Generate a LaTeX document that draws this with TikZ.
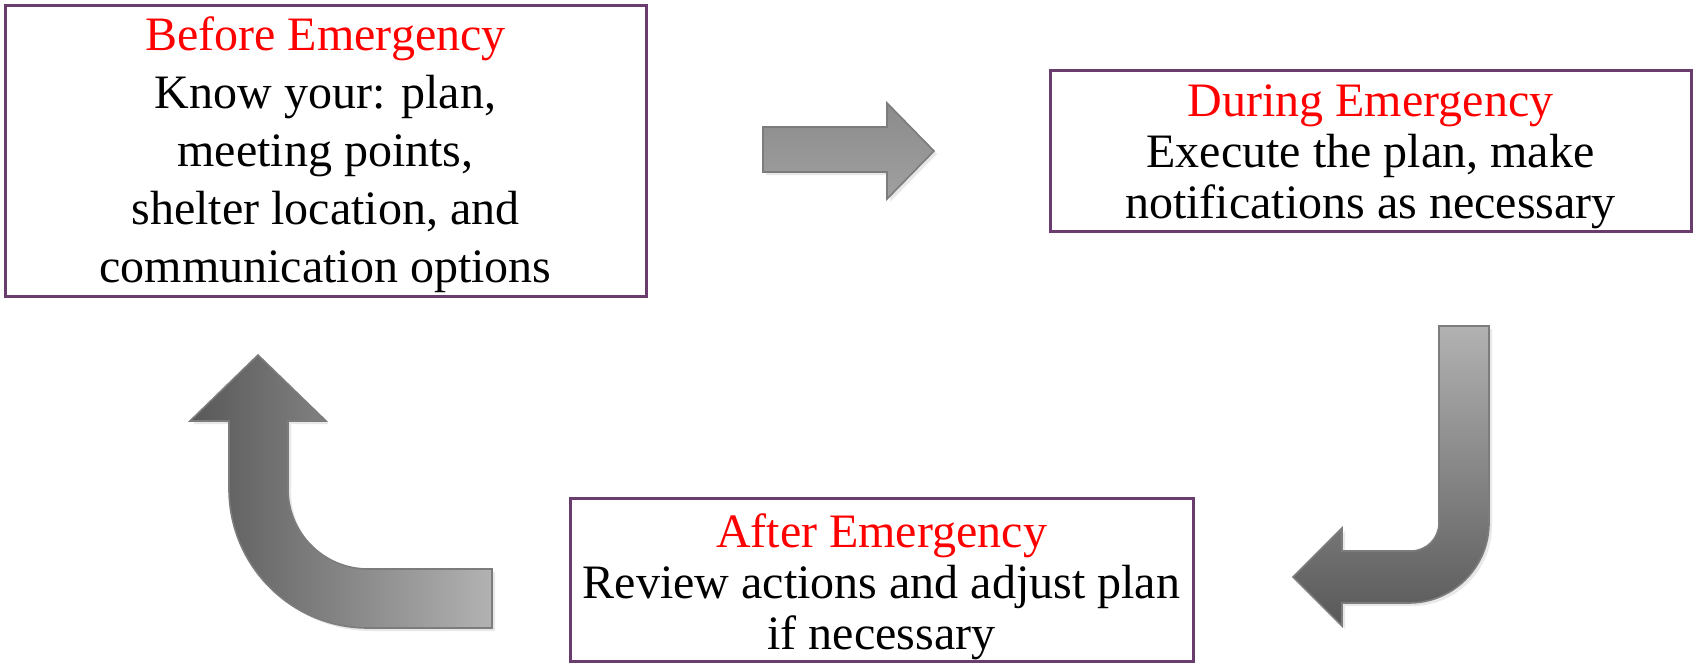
\documentclass[tikz,border=0pt]{standalone}
\usepackage{fontspec}
\setmainfont{Liberation Serif}
\usetikzlibrary{shadows}
\definecolor{boxline}{HTML}{6A3D6E}
\definecolor{arrline}{HTML}{7C7C7C}
\definecolor{arrdark}{HTML}{585858}
\definecolor{arrlight}{HTML}{B2B2B2}
\definecolor{arrmid}{HTML}{6E6E6E}

\begin{document}
\begin{tikzpicture}[x=1pt, y=-1pt,
  phase/.style={draw=boxline, line width=3pt, fill=white, align=center, inner sep=0pt,
    font=\fontsize{48}{51}\selectfont},
  blockarr/.style={draw=arrline, line width=1.6pt, line join=miter,
    drop shadow={opacity=0.18, shadow xshift=3pt, shadow yshift=-3pt}}]
\useasboundingbox (0,0) rectangle (1694,664);
% phase boxes
\node[phase, font=\fontsize{48}{58}\selectfont, minimum width=641, minimum height=291] (before) at (325.5,150.5)
  {\rule{0pt}{42pt}\textcolor{red}{Before Emergency}\\Know your: plan,\\meeting points,\\shelter location, and\\communication options};
\node[phase, minimum width=641, minimum height=161] (during) at (1370.5,150.5)
  {\rule{0pt}{44pt}\textcolor{red}{During Emergency}\\Execute the plan, make\\notifications as necessary};
\node[phase, minimum width=623, minimum height=163] (after) at (881.5,579.5)
  {\rule{0pt}{49pt}\textcolor{red}{After Emergency}\\Review actions and adjust plan\\if necessary};
% block arrows between phases
\draw[blockarr, top color=arrmid!80!white, middle color=arrmid, bottom color=arrlight!90!black]
  (763,127) -- (887,127) -- (887,103) -- (934,151) -- (887,199) -- (887,172) -- (763,172) -- cycle;
\draw[blockarr, top color=arrlight, bottom color=arrdark]
  (1439,326) -- (1489,326) -- (1489,523) arc[start angle=0, end angle=90, radius=80]
  -- (1342,603) -- (1342,626) -- (1293,577) -- (1342,528) -- (1342,551) -- (1411,551)
  arc[start angle=90, end angle=0, radius=28] -- cycle;
\draw[blockarr, left color=arrdark, right color=arrlight]
  (258,355) -- (326,421) -- (288,421) -- (288,489) arc[start angle=180, end angle=90, radius=80]
  -- (492,569) -- (492,628) -- (368,628) arc[start angle=90, end angle=180, radius=139]
  -- (229,421) -- (190,421) -- cycle;
\end{tikzpicture}
\end{document}
